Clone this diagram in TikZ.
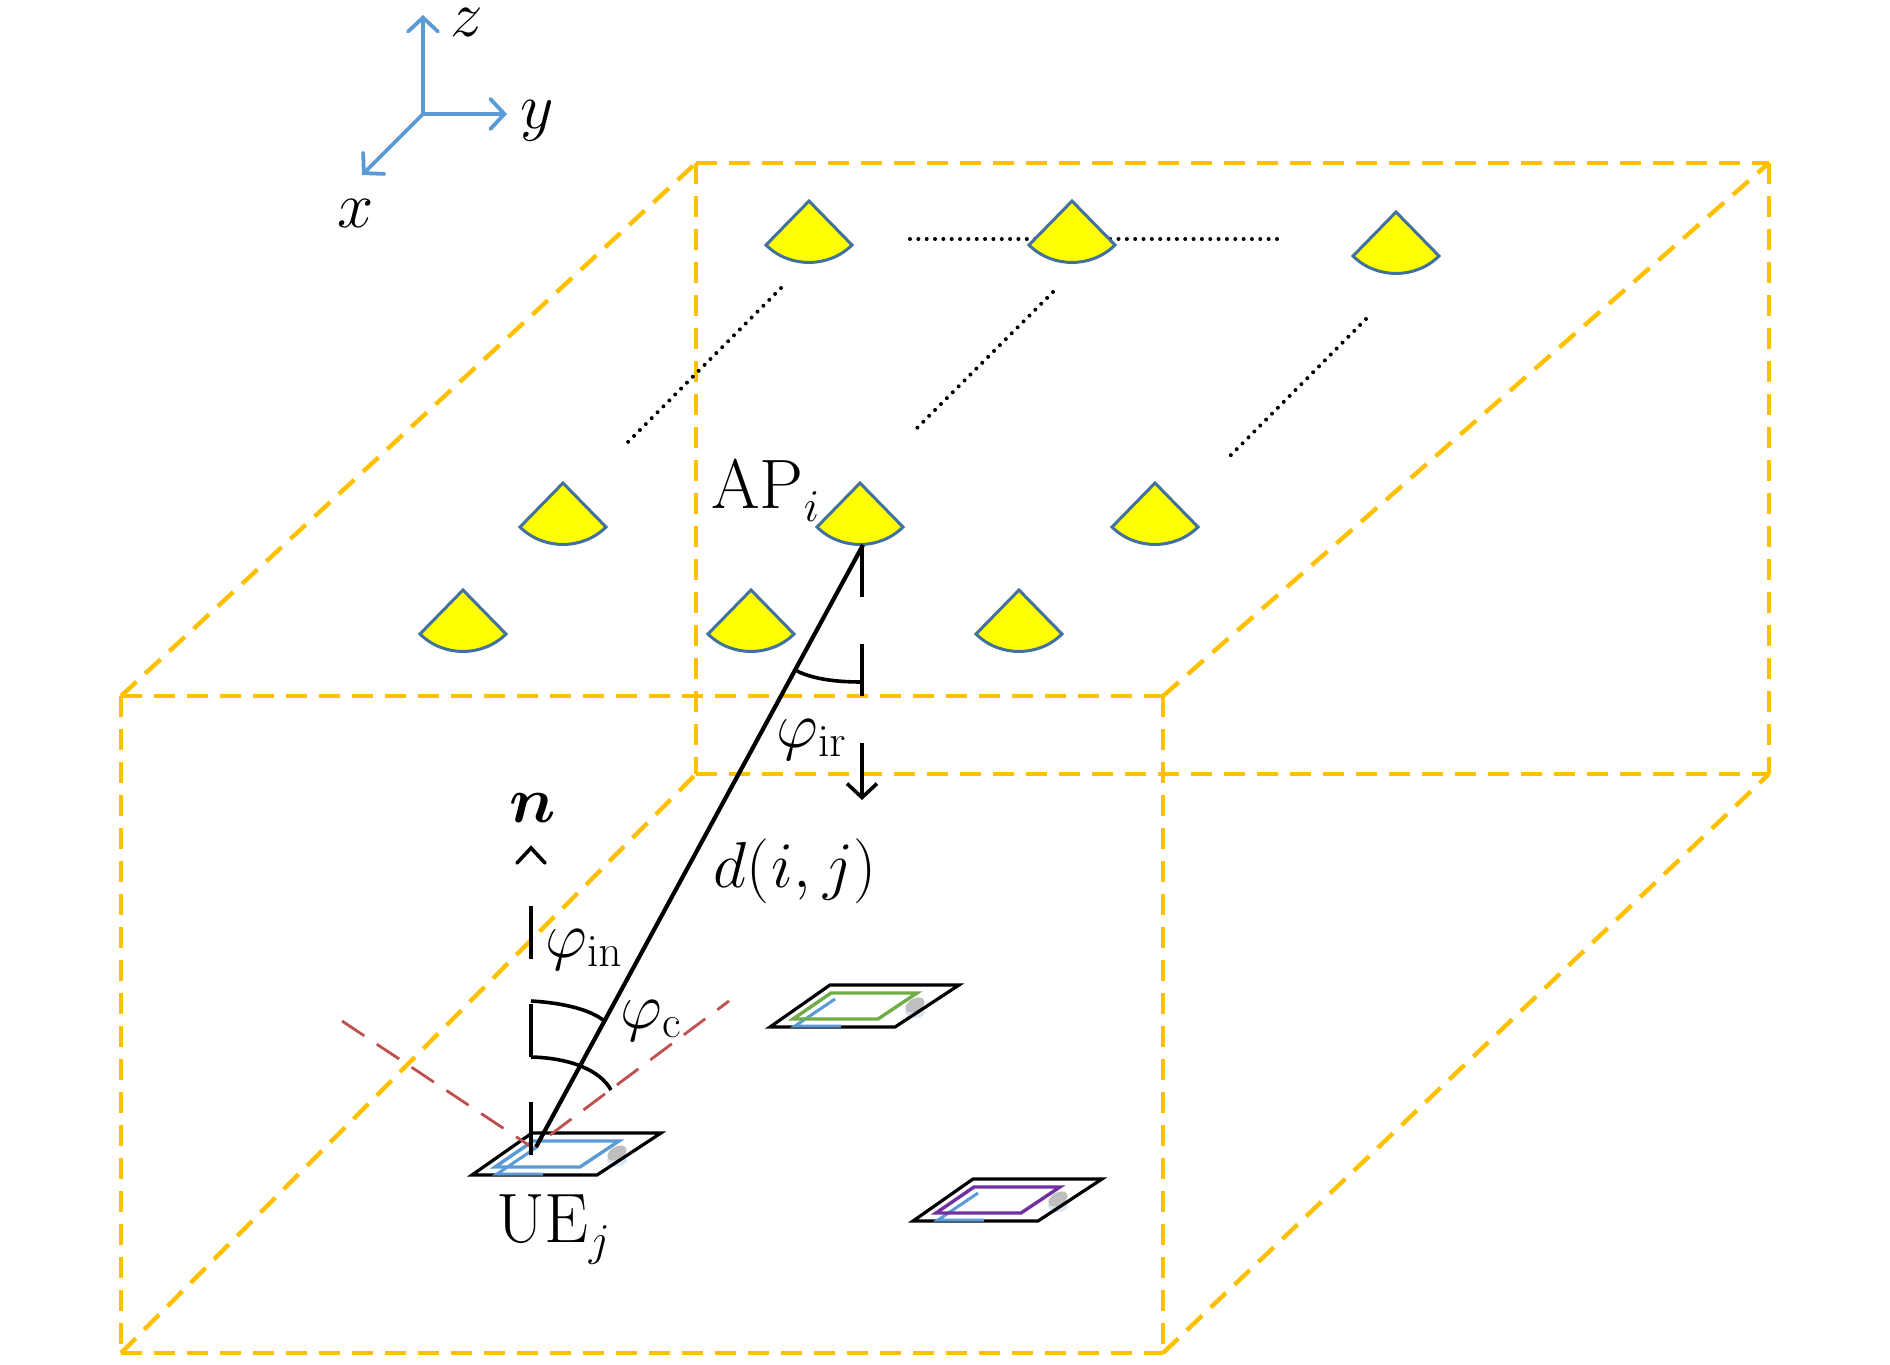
\documentclass[tikz,border=0pt]{standalone}
\usepackage{fix-cm}
\usepackage{amsmath,amssymb}
\usepackage{bm}
\usepackage{xcolor}
\usetikzlibrary{arrows.meta}

\definecolor{roomorange}{HTML}{FFC000}
\definecolor{axisblue}{HTML}{5B9BD5}
\definecolor{conerim}{HTML}{41719C}
\definecolor{coneyellow}{HTML}{FFFF00}
\definecolor{fovred}{HTML}{C0504D}
\definecolor{uegreen}{HTML}{70AD47}
\definecolor{uepurple}{HTML}{7030A0}

\newcommand{\bigroman}[1]{{\fontsize{35}{42}\selectfont #1}}

\tikzset{
    roomedge/.style={roomorange, line width=2.2pt, dash pattern=on 10.5pt off 6pt},
    gridline/.style={black, line width=2pt, line cap=round, dash pattern=on 0pt off 4.17pt},
    axisline/.style={axisblue, line width=1.9pt, line cap=round, -{Straight Barb[length=7pt,width=15pt,line cap=round]}},
    apcone/.style={fill=coneyellow, draw=conerim, line width=1.5pt},
    normalline/.style={black, line width=1.8pt},
    anglearc/.style={black, line width=1.8pt},
    fovline/.style={fovred, line width=1.4pt, dash pattern=on 13.4pt off 7.5pt},
    lbl/.style={anchor=base west, inner sep=0pt, font=\fontsize{32.5}{39}\selectfont}
}

\begin{document}
\begin{tikzpicture}[x=0.5pt, y=-0.5pt]
    \useasboundingbox (0,0) rectangle (1890,1365);

    % Room corners
    \coordinate (fa) at (121,696);
    \coordinate (fb) at (1163,696);
    \coordinate (fc) at (1163,1353);
    \coordinate (fd) at (121,1353);
    \coordinate (ba) at (696,163);
    \coordinate (bb) at (1769,163);
    \coordinate (bc) at (1769,774);
    \coordinate (bd) at (696,774);
    \draw[roomedge] (fa) -- (fb);
    \draw[roomedge] (fa) -- (fd);
    \draw[roomedge] (fd) -- (fc);
    \draw[roomedge] (fb) -- (fc);
    \draw[roomedge] (ba) -- (bb);
    \draw[roomedge] (ba) -- (bd);
    \draw[roomedge] (bd) -- (bc);
    \draw[roomedge] (bb) -- (bc);
    \draw[roomedge] (fa) -- (ba);
    \draw[roomedge] (fb) -- (bb);
    \draw[roomedge] (fc) -- (bc);
    \draw[roomedge] (fd) -- (bd);

    % Axes
    \coordinate (org) at (423,114);
    \coordinate (zend) at (423,15);
    \coordinate (yend) at (507,114);
    \coordinate (xend) at (362,175);
    \draw[axisline] (org) -- (zend);
    \draw[axisline] (org) -- (yend);
    \draw[axisline] (org) -- (xend);
    \node[lbl] (zlabel) at (450,36) {$z$};
    \node[lbl] (ylabel) at (520,128) {$y$};
    \node[lbl] (xlabel) at (337,227) {$x$};

    % Dotted rows of access points
    \draw[gridline] (910,239) -- (1279,239);
    \draw[gridline] (781,288) -- (626,444);
    \draw[gridline] (1053,292) -- (915,430);
    \draw[gridline] (1366,319) -- (1228,458);

    \foreach \x/\y in {809/201,1072/201,1396/212,563/483,860/483,1155/483,463/590,751/590,1019/590} {
        \draw[apcone] (\x,\y) -- ++(-43,44)
            .. controls +(23.3,23.3) and +(-23.3,23.3) .. ++(86,0) -- cycle;
    }

    % User devices
    \foreach \x/\y/\c in {470/1175/axisblue,768/1027/uegreen,911/1221/uepurple} {
        \begin{scope}[shift={(\x,\y)}]
            \fill[axisblue!25] (147,-15) ellipse [x radius=5pt, y radius=3pt];
            \fill[black!25, rotate around={30:(147,-22)}] (147,-22) ellipse [x radius=5.2pt, y radius=3.2pt];
            \draw[black, line width=1.6pt] (2,0) -- (127,0) -- (191,-42) -- (62,-42) -- cycle;
            \draw[axisblue, line width=1.5pt] (67,-28) -- (27,-1) -- (73,-1);
            \draw[\c, line width=1.7pt] (25,-8) -- (110,-8) -- (149,-34) -- (63,-34) -- cycle;
        \end{scope}
    }

    % Field of view
    \coordinate (fovfoot) at (533,1148);
    \coordinate (fovleft) at (342,1021);
    \coordinate (fovright) at (729,1001);
    \draw[fovline, dash phase=3.2pt] (fovfoot) -- (fovleft);
    \draw[fovline] (550,1135) -- (fovright);

    % Link between AP and UE
    \coordinate (apfoot) at (863,545);
    \coordinate (uefoot) at (536,1147);
    \draw[black, line width=2.1pt] (apfoot) -- (uefoot);

    % Normals
    \draw[normalline, dash pattern=on 26pt off 23.5pt] (862,545) -- (862,696);
    \draw[normalline, -{Straight Barb[length=7pt,width=15pt]}] (862,743) -- (862,800);
    \draw[normalline, dash pattern=on 26.5pt off 22.5pt] (531,1155) -- (531,903);
    \draw[normalline, line cap=round] (517,863) -- (531,848) -- (545,863);

    % Angles
    \draw[anglearc] (797,671) .. controls (815,680) and (840,682) .. (862,682);
    \draw[anglearc] (603,1020) .. controls (590,1010) and (565,1003) .. (531,1001);
    \draw[anglearc] (611,1090) .. controls (600,1070) and (570,1058) .. (531,1057);

    % Labels
    \node[lbl] (aplabel) at (711,508) {\bigroman{AP}\raisebox{-2pt}{$_{i}$}};
    \node[lbl] (uelabel) at (496,1242) {\bigroman{UE}\raisebox{-2pt}{$_j$}};
    \node[lbl] (dlabel) at (713,887) {$d(\mkern.5mu i,\mkern.5mu j)$};
    \node[lbl] (nlabel) at (509,822) {$\bm{n}$};
    \node[lbl] (phiir) at (776,747) {$\varphi_{\mathrm{ir}}$};
    \node[lbl] (phiin) at (545,957) {$\varphi_{\mathrm{in}}$};
    \node[lbl] (phic) at (620,1028) {$\varphi_{\mathrm{c}}$};
\end{tikzpicture}
\end{document}
